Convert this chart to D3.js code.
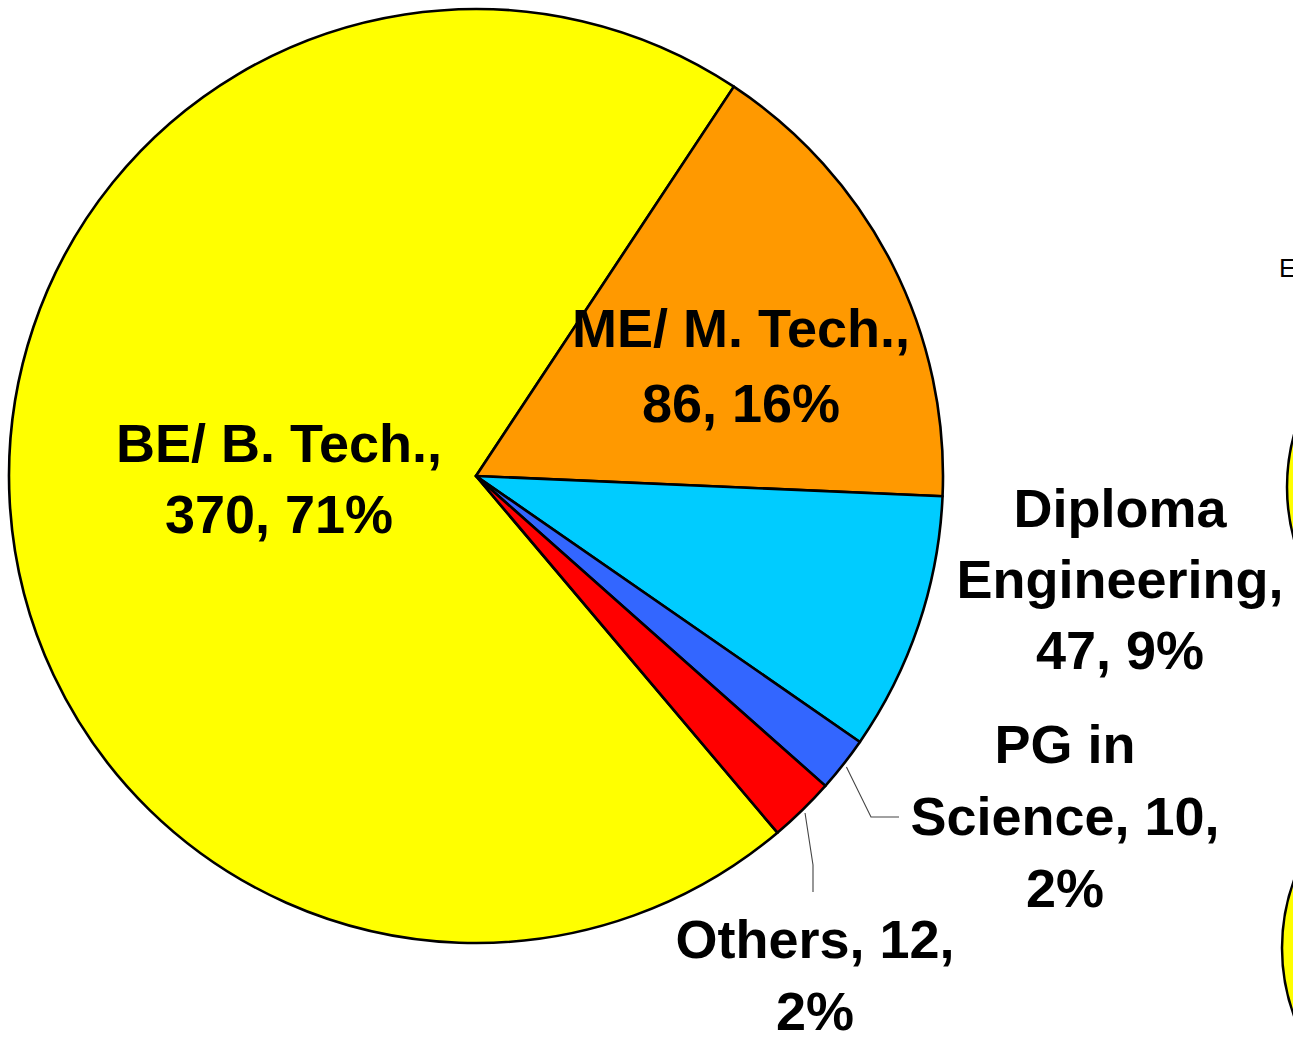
<!DOCTYPE html>
<html>
<head>
<meta charset="utf-8">
<script src="https://cdn.jsdelivr.net/npm/d3@7"></script>
<style>
  html, body { margin: 0; padding: 0; background: #fff; }
  svg { display: block; }
</style>
</head>
<body>
<svg id="chart" width="1293" height="1041"></svg>
<script>
// ---- data ----
const categories = ["BE/ B. Tech.", "ME/ M. Tech.", "Diploma Engineering", "PG in Science", "Others"];
const counts = [370, 86, 47, 10, 12];
const percents = ["71%", "16%", "9%", "2%", "2%"];
const labelLines = [
  ["BE/ B. Tech.,", "370, 71%"],
  ["ME/ M. Tech.,", "86, 16%"],
  ["Diploma", "Engineering,", "47, 9%"],
  ["PG in", "Science, 10,", "2%"],
  ["Others, 12,", "2%"]
];

// ---- layout / style ----
const colors = ["#FFFF00", "#FF9900", "#00CCFF", "#3366FF", "#FF0000"];
const cx = 476, cy = 476, R = 467;
const firstSliceDeg = 139.8;
// label anchor (x centre, first baseline) relative to pie centre, and line step
const labelPos = [
  { dx: -197, dy: -14, step: 71 },
  { dx: 265,  dy: -129, step: 75 },
  { dx: 644,  dy: 51,  step: 71 },
  { dx: 589,  dy: 287, step: 72 },
  { dx: 339,  dy: 482, step: 72 }
];
// leader lines (extra points relative to pie centre) for outside labels
const leaders = {
  3: [[395, 341], [423, 341]],
  4: [[337, 389], [337, 416]]
};

const svg = d3.select("#chart");
const g = svg.append("g").attr("transform", `translate(${cx},${cy})`);

const start = firstSliceDeg * Math.PI / 180;
const pie = d3.pie().sort(null).value(d => d).startAngle(start).endAngle(start + 2 * Math.PI);
const arcs = pie(counts);
const arc = d3.arc().innerRadius(0).outerRadius(R);

g.selectAll("path.slice")
  .data(arcs)
  .enter().append("path")
  .attr("class", "slice")
  .attr("d", arc)
  .attr("fill", (d, i) => colors[i])
  .attr("stroke", "#000")
  .attr("stroke-width", 2.6)
  .attr("stroke-linejoin", "round");

// leader lines
const lineGen = d3.line();
Object.keys(leaders).forEach(k => {
  const i = +k;
  const a = (arcs[i].startAngle + arcs[i].endAngle) / 2;
  const r0 = R + 4;
  const p0 = [Math.sin(a) * r0, -Math.cos(a) * r0];
  g.append("path")
    .attr("d", lineGen([p0, ...leaders[i]]))
    .attr("fill", "none")
    .attr("stroke", "#444")
    .attr("stroke-width", 1.1);
});

// labels
arcs.forEach((d, i) => {
  const p = labelPos[i];
  const t = g.append("text")
    .attr("text-anchor", "middle")
    .attr("font-family", "'Liberation Sans', Arial, sans-serif")
    .attr("font-weight", "bold")
    .attr("font-size", 54)
    .attr("fill", "#000");
  labelLines[i].forEach((ln, j) => {
    t.append("tspan")
      .attr("x", p.dx)
      .attr("y", p.dy + j * p.step)
      .text(ln);
  });
});

// cropped neighbouring chart fragments at the right edge
svg.append("text")
  .attr("x", 1279).attr("y", 277)
  .attr("font-family", "'Liberation Sans', Arial, sans-serif")
  .attr("font-size", 26)
  .attr("fill", "#000")
  .text("E");
svg.append("circle").attr("cx", 1486).attr("cy", 487).attr("r", 199)
  .attr("fill", "#FFFF00").attr("stroke", "#000").attr("stroke-width", 2.5);
svg.append("circle").attr("cx", 1480).attr("cy", 948).attr("r", 198)
  .attr("fill", "#FFFF00").attr("stroke", "#000").attr("stroke-width", 2.5);
</script>
</body>
</html>
